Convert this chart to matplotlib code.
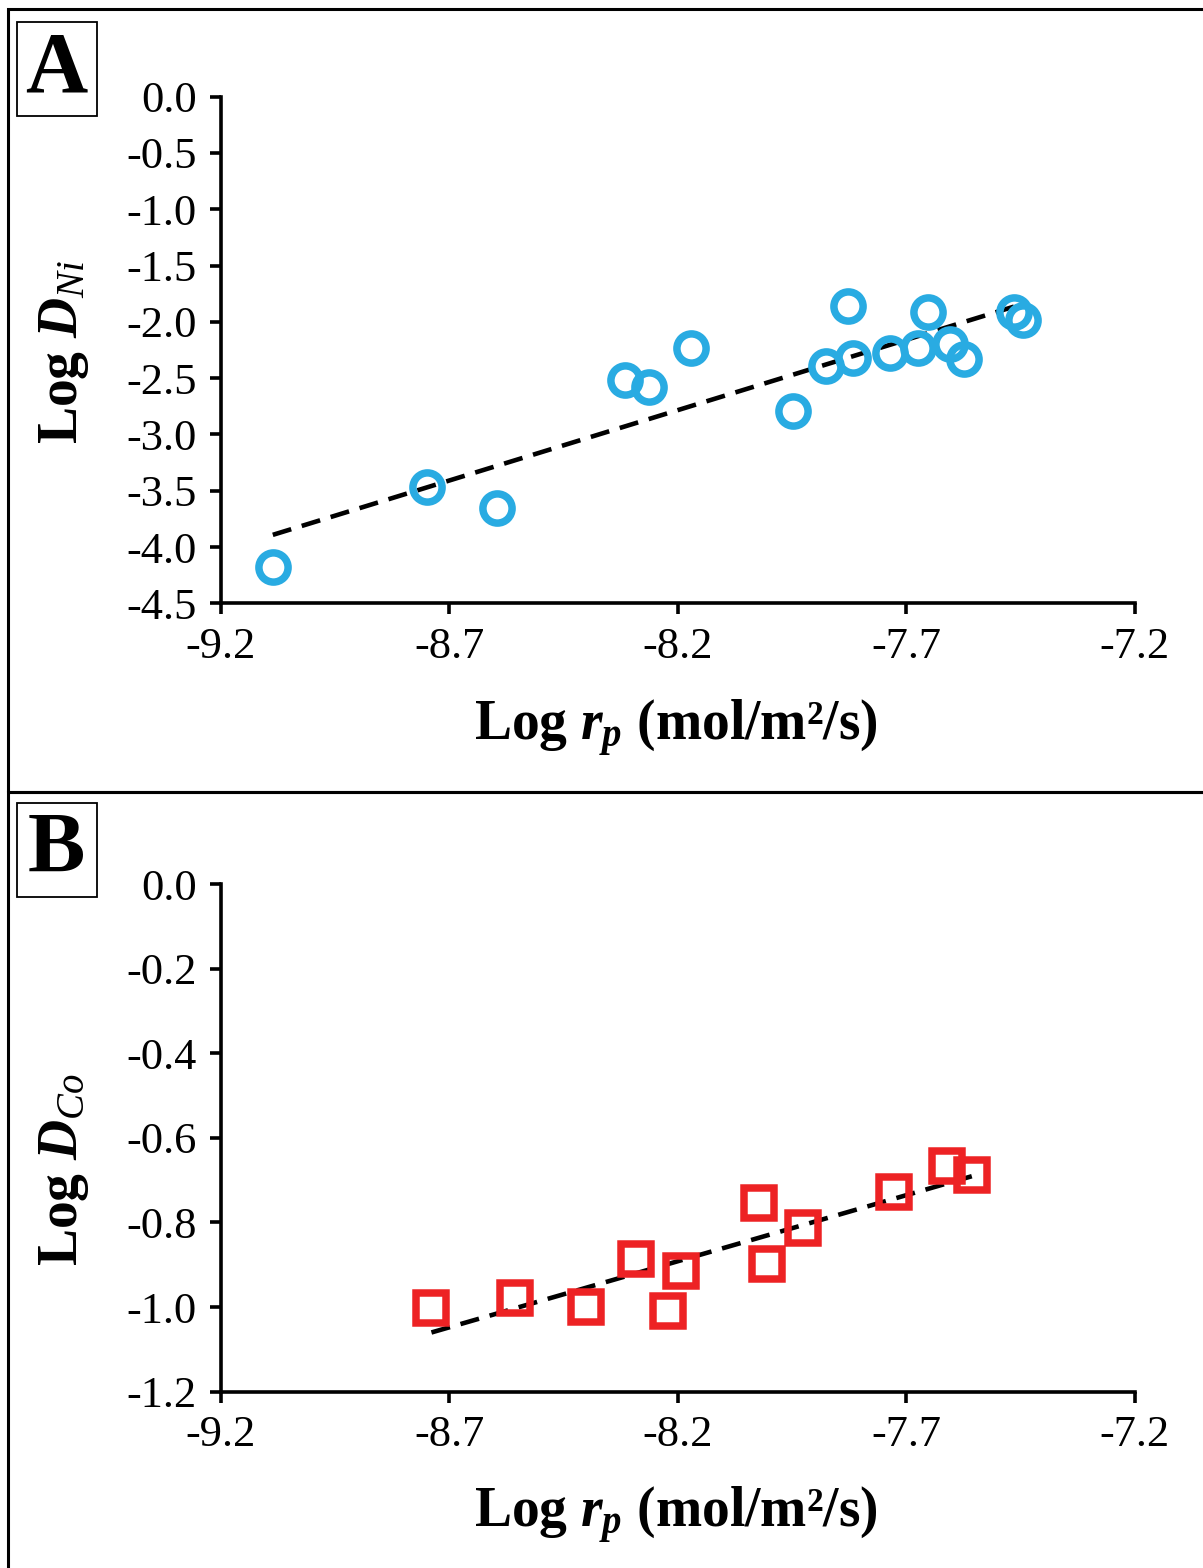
import numpy as np
import matplotlib
matplotlib.use("Agg")
import matplotlib.pyplot as plt
from matplotlib.patches import Rectangle

plt.rcParams["font.family"] = ["Liberation Serif", "DejaVu Serif"]
plt.rcParams["mathtext.fontset"] = "custom"
plt.rcParams["mathtext.rm"] = "Liberation Serif:bold"
plt.rcParams["mathtext.bf"] = "Liberation Serif:bold"
plt.rcParams["mathtext.it"] = "Liberation Serif:italic:bold"
plt.rcParams["mathtext.sf"] = "Liberation Serif:italic"
plt.rcParams["axes.unicode_minus"] = False

# Panel A: Ni
ni_x = [-9.086, -8.749, -8.596, -8.316, -8.263, -8.172, -7.948, -7.876, -7.828,
        -7.817, -7.736, -7.675, -7.653, -7.605, -7.574, -7.465, -7.445]
ni_y = [-4.178, -3.467, -3.653, -2.517, -2.579, -2.232, -2.792, -2.392, -1.859,
        -2.321, -2.277, -2.232, -1.912, -2.197, -2.330, -1.912, -1.983]

# Panel B: Co
co_x = [-8.739, -8.556, -8.401, -8.292, -8.222, -8.193, -8.022, -8.006, -7.926,
        -7.727, -7.612, -7.557]
co_y = [-1.001, -0.979, -1.000, -0.886, -1.009, -0.915, -0.755, -0.898, -0.814,
        -0.729, -0.667, -0.688]

x_ticks = [-9.2, -8.7, -8.2, -7.7, -7.2]
ni_ticks = [0.0, -0.5, -1.0, -1.5, -2.0, -2.5, -3.0, -3.5, -4.0, -4.5]
co_ticks = [0.0, -0.2, -0.4, -0.6, -0.8, -1.0, -1.2]

blue = "#29ABE2"
red = "#ED2224"

W, H = 1203, 1568
fig = plt.figure(figsize=(W / 100, H / 100), dpi=100)


def fx(px):
    return px / W


def fy(py):
    return 1 - py / H


def setup_axes(top_px, bottom_px, yticks):
    ax = fig.add_axes([fx(220.7), fy(bottom_px), fx(1135) - fx(220.7),
                       (bottom_px - top_px) / H])
    ax.spines["top"].set_visible(False)
    ax.spines["right"].set_visible(False)
    for s in ("left", "bottom"):
        ax.spines[s].set_linewidth(2.6)
    ax.set_xlim(-9.2, -7.2)
    ax.set_ylim(min(yticks), max(yticks))
    ax.set_xticks(x_ticks)
    ax.set_yticks(yticks)
    ax.set_xticklabels(["%.1f" % v for v in x_ticks])
    ax.set_yticklabels(["%.1f" % v for v in yticks])
    ax.tick_params(direction="out", length=8, width=2.6, labelsize=32, pad=9)
    ax.set_facecolor("none")
    return ax


def trend(ax, x, y):
    # least squares line over the data range
    k, b = np.polyfit(x, y, 1)
    xs = np.array([min(x), max(x)])
    ax.plot(xs, k * xs + b, color="black", lw=3.3, ls=(0, (4.2, 2.4)), zorder=1)


# Panel A
ax1 = setup_axes(96.7, 603.3, ni_ticks)
trend(ax1, ni_x, ni_y)
ax1.plot(ni_x, ni_y, "o", ms=21, mfc="none", mec=blue, mew=5.4, zorder=2)

# Panel B
ax2 = setup_axes(884, 1391.7, co_ticks)
trend(ax2, co_x, co_y)
ax2.plot(co_x, co_y, "s", ms=21, mfc="none", mec=red, mew=5.4, zorder=2)

# Axis labels
xlabel = r"Log $r_{p}$ (mol/m²/s)"
fig.text(fx(676), fy(740), xlabel, ha="center", va="baseline",
         fontsize=40, fontweight="bold")
fig.text(fx(676), fy(1527), xlabel, ha="center", va="baseline",
         fontsize=40, fontweight="bold")
fig.text(fx(64), fy(352), r"Log $D_{\mathsf{Ni}}$", rotation=90,
         ha="center", va="center", fontsize=40, fontweight="bold")
fig.text(fx(64), fy(1170), r"Log $D_{\mathsf{Co}}$", rotation=90,
         ha="center", va="center", fontsize=40, fontweight="bold")

# Panel frames
for top, bottom in ((9, 792), (792, 1580)):
    fig.patches.append(Rectangle((fx(8), fy(bottom)), fx(1215) - fx(8),
                                 (bottom - top) / H, transform=fig.transFigure,
                                 fill=False, lw=2.2, ec="black"))

# Panel letters
for letter, top in (("A", 21.7), ("B", 802.7)):
    fig.patches.append(Rectangle((fx(16.7), fy(top + 94.5)), fx(80), 94.5 / H,
                                 transform=fig.transFigure, fill=False,
                                 lw=1.3, ec="black"))
    fig.text(fx(56.7), fy(top + 49), letter, ha="center", va="center",
             fontsize=62, fontweight="bold")

fig.savefig("out.png", dpi=100)
